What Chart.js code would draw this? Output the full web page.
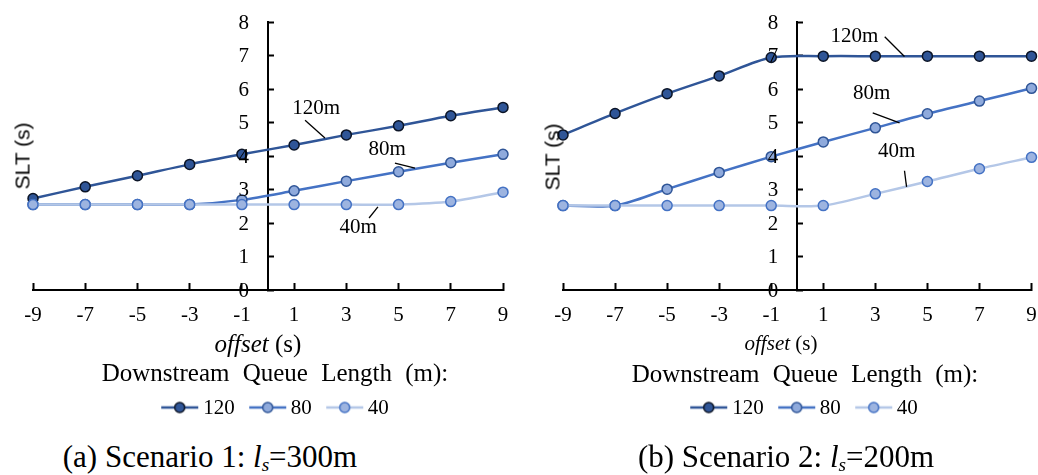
<!DOCTYPE html>
<html><head><meta charset="utf-8">
<script src="https://cdn.jsdelivr.net/npm/chart.js@4.4.1/dist/chart.umd.min.js"></script>
<style>
html,body{margin:0;padding:0;background:#fff;}
body{width:1038px;height:475px;position:relative;overflow:hidden;font-family:"Liberation Serif","Times New Roman",serif;color:#000;}
canvas.chart{position:absolute;top:0;}
.abs{position:absolute;white-space:nowrap;transform:translate(-50%,-50%);line-height:1;}
.ytitle{font-family:"Liberation Sans",Arial,sans-serif;font-size:21px;transform:translate(-50%,-50%) rotate(-90deg);z-index:2;}
.xtitle{font-size:25px;}
.ltitle{font-size:25px;word-spacing:7px;}
.legend{position:absolute;display:flex;align-items:center;transform:translate(-50%,-50%);font-size:21px;line-height:1;white-space:nowrap;}
.legend .item{display:flex;align-items:center;margin:0 7px;}
.legend canvas{margin-right:5px;}
.caption{font-size:31px;}
.caption sub{font-size:0.62em;vertical-align:-0.2em;font-style:italic;}
</style>
</head><body>
<canvas id="c1" class="chart" width="520" height="340" style="left:0"></canvas>
<canvas id="c2" class="chart" width="518" height="340" style="left:520px"></canvas>

<div class="abs ytitle" style="left:22px;top:156px">SLT (s)</div>
<div class="abs ytitle" style="left:552px;top:157px">SLT (s)</div>

<div class="abs xtitle" style="left:258px;top:343px"><i>offset</i> (s)</div>
<div class="abs xtitle" style="left:781px;top:343px;font-size:21px"><i>offset</i> (s)</div>

<div class="abs ltitle" style="left:275px;top:372px">Downstream Queue Length (m):</div>
<div class="abs ltitle" style="left:805px;top:373px">Downstream Queue Length (m):</div>

<div class="legend" id="leg1" style="left:275px;top:407px"></div>
<div class="legend" id="leg2" style="left:804px;top:407px"></div>

<div class="abs caption" style="left:210px;top:458px">(a) Scenario 1: <i>l</i><sub>s</sub>=300m</div>
<div class="abs caption" style="left:786px;top:458px">(b) Scenario 2: <i>l</i><sub>s</sub>=200m</div>

<script>
// ---- data ----
const offsets = [-9, -7, -5, -3, -1, 1, 3, 5, 7, 9];
const yTicks = [0, 1, 2, 3, 4, 5, 6, 7, 8];
const seriesNames = ['120', '80', '40'];

// Scenario 1: ls = 300 m
const s1_120 = [2.73, 3.08, 3.41, 3.75, 4.05, 4.33, 4.63, 4.90, 5.20, 5.45];
const s1_80  = [2.55, 2.55, 2.55, 2.55, 2.69, 2.96, 3.25, 3.53, 3.80, 4.05];
const s1_40  = [2.55, 2.55, 2.55, 2.55, 2.55, 2.55, 2.55, 2.55, 2.64, 2.92];

// Scenario 2: ls = 200 m
const s2_120 = [4.63, 5.27, 5.86, 6.39, 6.94, 6.98, 6.98, 6.98, 6.98, 6.98];
const s2_80  = [2.52, 2.52, 3.01, 3.51, 3.98, 4.42, 4.84, 5.26, 5.64, 6.02];
const s2_40  = [2.52, 2.52, 2.52, 2.52, 2.52, 2.52, 2.87, 3.24, 3.62, 3.96];

// ---- styles ----
const styles = [
  {line: '#2F5597', fill: '#2F5597', border: '#0b1426', order: 3},
  {line: '#4472C4', fill: '#8FAADC', border: '#2F5597', order: 2},
  {line: '#B4C7E7', fill: '#9DB4E0', border: '#4472C4', order: 1}
];

// annotation labels (in data units)
const notes1 = [
  {text: '120m', x: 1.84, y: 5.43, line: [1.42, 5.07, 2.18, 4.54]},
  {text: '80m',  x: 4.56, y: 4.18, line: [4.86, 3.79, 5.63, 3.64]},
  {text: '40m',  x: 3.45, y: 1.88, line: [4.21, 2.48, 3.87, 2.15]}
];
const notes2 = [
  {text: '120m', x: 2.20, y: 7.56, line: [3.36, 7.56, 4.12, 6.97]},
  {text: '80m',  x: 2.86, y: 5.86, line: [2.90, 5.29, 3.93, 4.99]},
  {text: '40m',  x: 3.82, y: 4.13, line: [4.12, 3.56, 4.20, 3.08]}
];

const serif = "'Liberation Serif','Times New Roman',serif";

// y tick labels drawn left of the y axis (which crosses at x = 0), on top of the data
const yLabelPlugin = {
  id: 'yLabelsLeft',
  afterDatasetsDraw(chart) {
    const {ctx, scales} = chart;
    const xs = scales.x, ys = scales.y;
    const ax = xs.getPixelForValue(0);
    ctx.save();
    ctx.fillStyle = '#000';
    ctx.font = '21px ' + serif;
    ctx.textAlign = 'right';
    ctx.textBaseline = 'middle';
    ys.ticks.forEach(t => {
      ctx.fillText(String(t.value), ax - 19, ys.getPixelForValue(t.value) + 1);
    });
    ctx.restore();
  }
};

function notesPlugin(notes) {
  return {
    id: 'notes',
    afterDatasetsDraw(chart) {
      const {ctx, scales} = chart;
      const xs = scales.x, ys = scales.y;
      ctx.save();
      ctx.fillStyle = '#000';
      ctx.strokeStyle = '#000';
      ctx.lineWidth = 1.3;
      ctx.font = '21px ' + serif;
      ctx.textAlign = 'center';
      ctx.textBaseline = 'middle';
      notes.forEach(n => {
        ctx.fillText(n.text, xs.getPixelForValue(n.x), ys.getPixelForValue(n.y));
        ctx.beginPath();
        ctx.moveTo(xs.getPixelForValue(n.line[0]), ys.getPixelForValue(n.line[1]));
        ctx.lineTo(xs.getPixelForValue(n.line[2]), ys.getPixelForValue(n.line[3]));
        ctx.stroke();
      });
      ctx.restore();
    }
  };
}

function makeChart(id, seriesList, notes, padL, padR) {
  const datasets = seriesList.map((vals, i) => ({
    label: seriesNames[i],
    data: offsets.map((o, k) => ({x: o, y: vals[k]})),
    borderColor: styles[i].line,
    backgroundColor: styles[i].fill,
    pointBackgroundColor: styles[i].fill,
    pointBorderColor: styles[i].border,
    pointBorderWidth: 1.5,
    pointRadius: 5,
    borderWidth: 2.5,
    tension: 0.3,
    order: styles[i].order,
    clip: false
  }));
  return new Chart(document.getElementById(id), {
    type: 'line',
    data: {datasets},
    options: {
      responsive: false,
      animation: false,
      devicePixelRatio: 1,
      layout: {padding: {left: padL, right: padR, top: 22, bottom: 0}},
      plugins: {legend: {display: false}, tooltip: {enabled: false}},
      scales: {
        x: {
          type: 'linear', min: -9, max: 9,
          afterBuildTicks: s => { s.ticks = offsets.map(v => ({value: v})); },
          afterFit: s => { s.height = 50; s.paddingLeft = 0; s.paddingRight = 0; },
          grid: {drawOnChartArea: false, drawTicks: true, tickLength: -7, tickWidth: 2, tickColor: '#000'},
          border: {display: true, color: '#000', width: 2},
          ticks: {font: {family: serif, size: 21}, color: '#000', padding: 20, maxRotation: 0, autoSkip: false}
        },
        y: {
          type: 'linear', min: 0, max: 8, position: {x: 0},
          afterBuildTicks: s => { s.ticks = yTicks.map(v => ({value: v})); },
          afterFit: s => { s.paddingTop = 0; s.paddingBottom = 0; },
          grid: {drawOnChartArea: false, drawTicks: true, tickLength: -7, tickWidth: 2, tickColor: '#000'},
          border: {display: true, color: '#000', width: 2},
          ticks: {display: false}
        }
      }
    },
    plugins: [yLabelPlugin, notesPlugin(notes)]
  });
}

makeChart('c1', [s1_120, s1_80, s1_40], notes1, 33, 17);
makeChart('c2', [s2_120, s2_80, s2_40], notes2, 43, 6);

function buildLegend(id) {
  const el = document.getElementById(id);
  seriesNames.forEach((name, i) => {
    const item = document.createElement('div');
    item.className = 'item';
    const cv = document.createElement('canvas');
    cv.width = 37; cv.height = 14;
    const c = cv.getContext('2d');
    c.strokeStyle = styles[i].line; c.lineWidth = 2.5;
    c.beginPath(); c.moveTo(0, 7); c.lineTo(37, 7); c.stroke();
    c.fillStyle = styles[i].fill; c.strokeStyle = styles[i].border; c.lineWidth = 1.5;
    c.beginPath(); c.arc(18.5, 7, 5, 0, Math.PI * 2); c.fill(); c.stroke();
    const sp = document.createElement('span');
    sp.textContent = name;
    item.appendChild(cv); item.appendChild(sp);
    el.appendChild(item);
  });
}
buildLegend('leg1');
buildLegend('leg2');
</script>
</body></html>
